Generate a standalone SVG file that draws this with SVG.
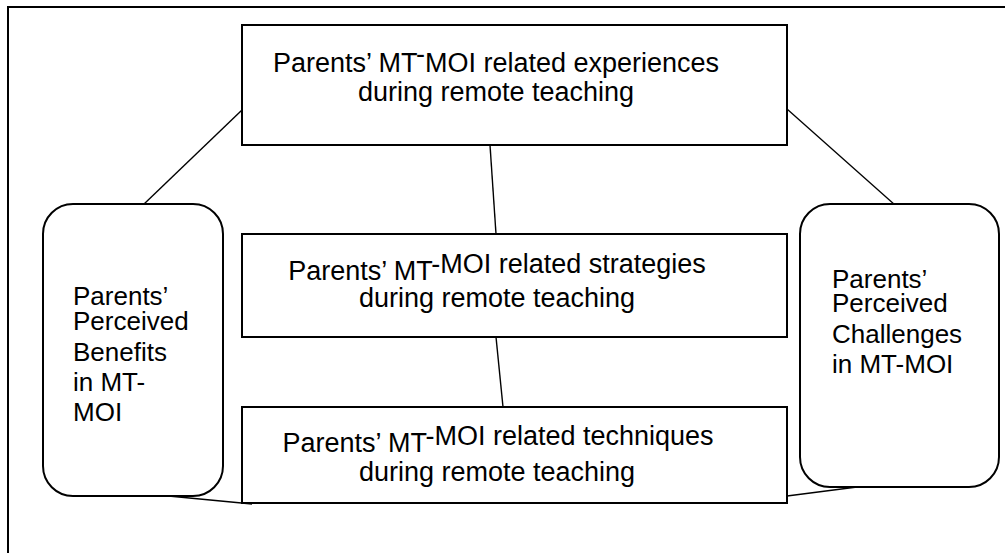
<svg xmlns="http://www.w3.org/2000/svg" width="1005" height="553" viewBox="0 0 1005 553">
  <style>
    .frame { fill: none; stroke: #000; stroke-width: 2; }
    .box { fill: #fff; stroke: #000; stroke-width: 2; }
    .link { fill: none; stroke: #000; stroke-width: 1.4; }
    .label { font-family: "Liberation Sans", Arial, sans-serif; fill: #000; }
    .main { font-size: 27px; text-anchor: middle; }
    .side { font-size: 26px; }
  </style>
  <rect width="1005" height="553" fill="#fff"/>

  <!-- outer frame (runs off the right and bottom edges) -->
  <path class="frame" d="M8,560 V7 H1010"/>

  <!-- connectors -->
  <g id="connectors">
    <line class="link" x1="242" y1="110" x2="143" y2="205"/>
    <line class="link" x1="787" y1="109" x2="895" y2="205"/>
    <line class="link" x1="490" y1="145" x2="496" y2="234"/>
    <line class="link" x1="496" y1="337" x2="503" y2="407"/>
    <line class="link" x1="158" y1="495" x2="252" y2="504"/>
    <line class="link" x1="787" y1="496" x2="857" y2="487"/>
  </g>

  <!-- experiences -->
  <g id="node-experiences">
    <rect class="box" x="242" y="25" width="545" height="120"/>
    <text class="label main" x="496" y="72">Parents’ MT<tspan dy="-9">-</tspan><tspan dy="9">MOI related experiences</tspan></text>
    <text class="label main" x="496" y="101">during remote teaching</text>
  </g>

  <!-- strategies -->
  <g id="node-strategies">
    <rect class="box" x="242" y="234" width="545" height="103"/>
    <text class="label main" x="497" y="280">Parents’ MT<tspan dy="-7">-MOI related strategies</tspan></text>
    <text class="label main" x="497" y="307">during remote teaching</text>
  </g>

  <!-- techniques -->
  <g id="node-techniques">
    <rect class="box" x="242" y="407" width="545" height="96"/>
    <text class="label main" x="498" y="452">Parents’ MT<tspan dy="-7">-MOI related techniques</tspan></text>
    <text class="label main" x="497" y="481">during remote teaching</text>
  </g>

  <!-- perceived benefits -->
  <g id="node-benefits">
    <rect class="box" x="43" y="204" width="180" height="292" rx="30" ry="30"/>
    <text class="label side" x="73" y="305">Parents’</text>
    <text class="label side" x="73" y="330">Perceived</text>
    <text class="label side" x="73" y="361">Benefits</text>
    <text class="label side" x="73" y="391">in MT-</text>
    <text class="label side" x="73" y="421">MOI</text>
  </g>

  <!-- perceived challenges -->
  <g id="node-challenges">
    <rect class="box" x="800" y="204" width="199" height="283" rx="30" ry="30"/>
    <text class="label side" x="832" y="288">Parents’</text>
    <text class="label side" x="832" y="312">Perceived</text>
    <text class="label side" x="832" y="343">Challenges</text>
    <text class="label side" x="832" y="373">in MT-MOI</text>
  </g>
</svg>
